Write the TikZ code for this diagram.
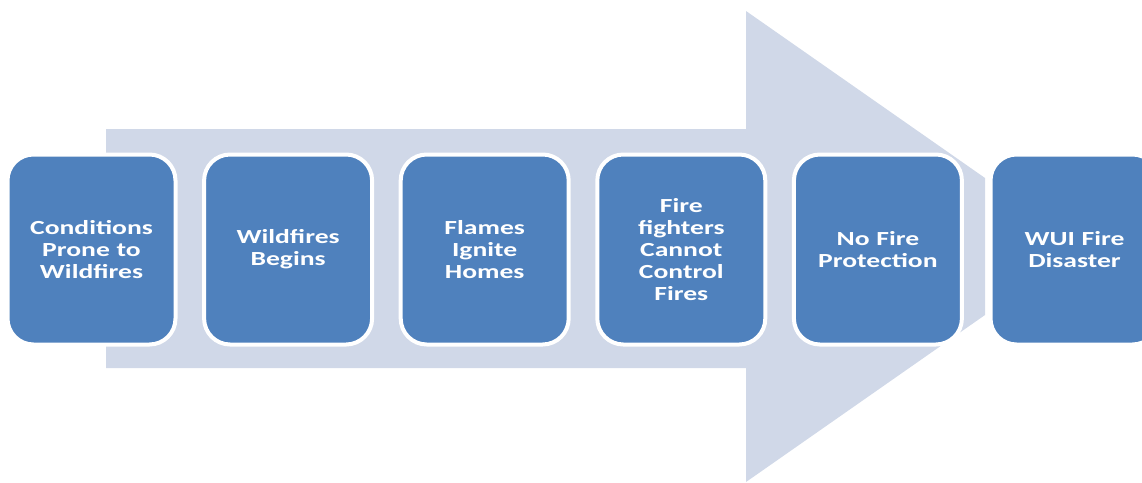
\documentclass[tikz,border=0pt]{standalone}
\usepackage{fontspec}
\setmainfont{Carlito}[FakeStretch=1.38]
\definecolor{boxblue}{HTML}{4F81BD}
\definecolor{arrowgray}{HTML}{D0D8E8}
\begin{document}
\begin{tikzpicture}[x=1pt,y=-1pt,
  stage/.style={draw=white, line width=4pt, fill=boxblue, rounded corners=26pt,
    minimum width=168pt, minimum height=190pt, text width=160pt, align=center,
    text=white, font=\fontsize{20}{22}\selectfont\bfseries, inner sep=0pt},
  bigarrow/.style={fill=arrowgray}]
\useasboundingbox (0,0) rectangle (1142,482);
\clip (0,0) rectangle (1142,482);
\fill[bigarrow] (106,129) -- (746,129) -- (746,11) -- (985,178) -- (985,315)
  -- (746,482) -- (746,368) -- (106,368) -- cycle;
\node[stage] (b1) at (91.5,249.5) {Conditions\\Prone to\\Wildfires};
\node[stage] (b2) at (288.1,249.5) {Wildfires\\Begins};
\node[stage] (b3) at (484.7,249.5) {Flames\\Ignite\\Homes};
\node[stage] (b4) at (681.3,249.5) {Fire\\fighters\\Cannot\\Control\\Fires};
\node[stage] (b5) at (877.9,249.5) {No Fire\\Protection};
\node[stage] (b6) at (1074.5,249.5) {WUI Fire\\Disaster};
\end{tikzpicture}
\end{document}
